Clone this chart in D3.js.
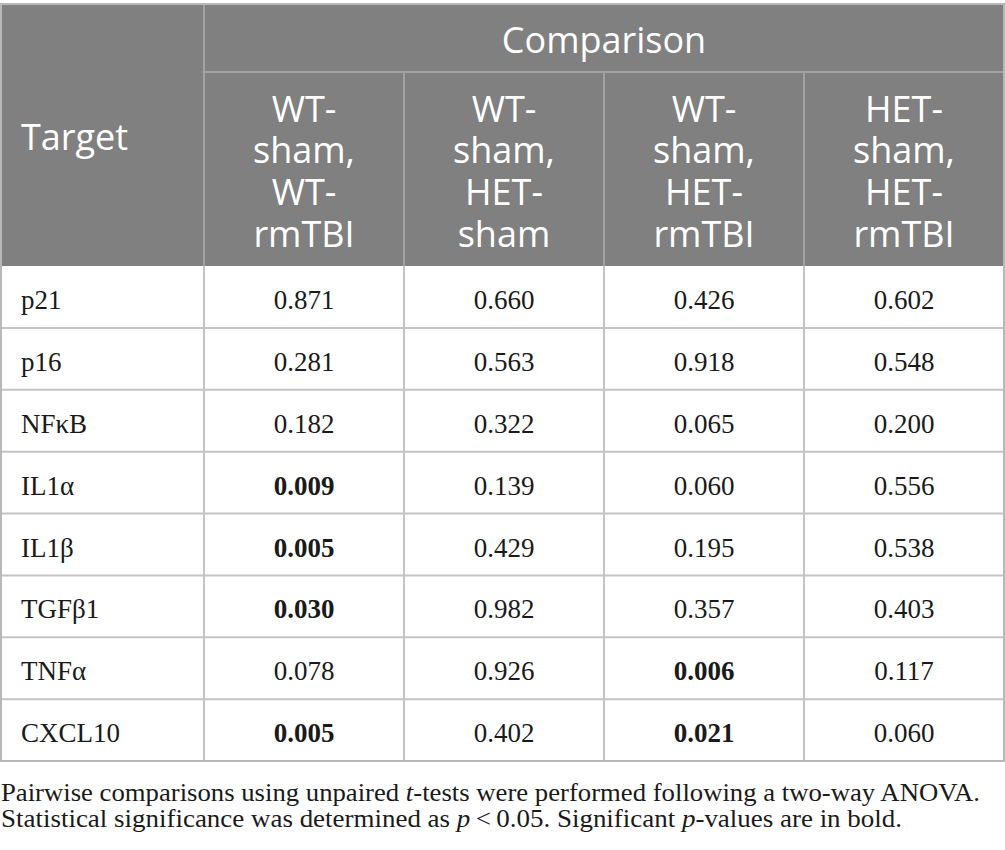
<!DOCTYPE html>
<html>
<head>
<meta charset="utf-8">
<script src="https://cdn.jsdelivr.net/npm/d3@7"></script>
<style>
  body { margin: 0; background: #fff; }
</style>
</head>
<body>
<div id="table"></div>
<script>
// table data
var targets = ["p21", "p16", "NF\u03baB", "IL1\u03b1", "IL1\u03b2", "TGF\u03b21", "TNF\u03b1", "CXCL10"];
var comparisons = [
  ["WT-", "sham,", "WT-", "rmTBI"],
  ["WT-", "sham,", "HET-", "sham"],
  ["WT-", "sham,", "HET-", "rmTBI"],
  ["HET-", "sham,", "HET-", "rmTBI"]
];
var wtShamWtTbi   = [0.871, 0.281, 0.182, 0.009, 0.005, 0.030, 0.078, 0.005];
var wtShamHetSham = [0.660, 0.563, 0.322, 0.139, 0.429, 0.982, 0.926, 0.402];
var wtShamHetTbi  = [0.426, 0.918, 0.065, 0.060, 0.195, 0.357, 0.006, 0.021];
var hetShamHetTbi = [0.602, 0.548, 0.200, 0.556, 0.538, 0.403, 0.117, 0.060];
var alpha = 0.05;

var series = [wtShamWtTbi, wtShamHetSham, wtShamHetTbi, hetShamHetTbi];

var W = 1005, H = 850;
var left = 1, right = 1004, top = 4, firstColW = 203;
var headTop = 4, subTop = 72, headBottom = 266, tableBottom = 761;

var svg = d3.select("#table")
  .append("svg")
    .attr("width", W)
    .attr("height", H);

var x = d3.scaleBand()
  .domain(d3.range(comparisons.length))
  .range([left + firstColW, right]);

var y = d3.scaleBand()
  .domain(targets)
  .range([headBottom, tableBottom]);

var fmt = d3.format(".3f");

// header background
svg.append("rect")
  .attr("x", left).attr("y", headTop)
  .attr("width", right - left).attr("height", headBottom - headTop)
  .attr("fill", "#808080");

// header inner lines
var hdrLine = "#a2a2a2";
svg.append("line")
  .attr("x1", x(0)).attr("x2", right)
  .attr("y1", subTop).attr("y2", subTop)
  .attr("stroke", hdrLine).attr("stroke-width", 2);
svg.selectAll("line.hsep")
  .data(d3.range(comparisons.length))
  .enter()
  .append("line")
    .attr("class", "hsep")
    .attr("x1", d => x(d)).attr("x2", d => x(d))
    .attr("y1", d => d == 0 ? headTop : subTop)
    .attr("y2", headBottom)
    .attr("stroke", hdrLine).attr("stroke-width", 2);

var headFont = "'Open Sans', sans-serif";
svg.append("text")
  .attr("x", 21).attr("y", 150)
  .attr("fill", "#fff")
  .style("font-family", headFont).style("font-size", "36px")
  .text("Target");

svg.append("text")
  .attr("x", (x(0) + right) / 2).attr("y", 53)
  .attr("text-anchor", "middle")
  .attr("fill", "#fff")
  .style("font-family", headFont).style("font-size", "36px")
  .text("Comparison");

svg.selectAll("text.colhead")
  .data(comparisons)
  .enter()
  .append("text")
    .attr("class", "colhead")
    .attr("text-anchor", "middle")
    .attr("fill", "#fff")
    .style("font-family", headFont).style("font-size", "36px")
    .each(function(lines, i) {
      d3.select(this).selectAll("tspan")
        .data(lines)
        .enter()
        .append("tspan")
          .attr("x", x(i) + x.bandwidth() / 2)
          .attr("y", (d, j) => 121.7 + j * 41.7)
          .text(d => d);
    });

// body grid
var grid = "#c4c4c4";
svg.selectAll("line.row")
  .data(targets)
  .enter()
  .append("line")
    .attr("class", "row")
    .attr("x1", left).attr("x2", right)
    .attr("y1", d => y(d) + y.bandwidth())
    .attr("y2", d => y(d) + y.bandwidth())
    .attr("stroke", grid).attr("stroke-width", 2);

svg.selectAll("line.col")
  .data(d3.range(comparisons.length))
  .enter()
  .append("line")
    .attr("class", "col")
    .attr("x1", d => x(d)).attr("x2", d => x(d))
    .attr("y1", headBottom).attr("y2", tableBottom)
    .attr("stroke", grid).attr("stroke-width", 2);

// outer border
svg.append("rect")
  .attr("x", left).attr("y", headTop)
  .attr("width", right - left).attr("height", tableBottom - headTop)
  .attr("fill", "none")
  .attr("stroke", "#b8b8b8").attr("stroke-width", 2);

var bodyFont = "'Liberation Serif', 'Times New Roman', serif";

svg.selectAll("text.target")
  .data(targets)
  .enter()
  .append("text")
    .attr("class", "target")
    .attr("x", 21)
    .attr("y", d => y(d) + 43)
    .attr("fill", "#1a1a1a")
    .style("font-family", bodyFont).style("font-size", "27px")
    .text(d => d);

var cells = [];
series.forEach(function(vals, c) {
  vals.forEach(function(v, r) {
    cells.push({col: c, target: targets[r], value: v});
  });
});

svg.selectAll("text.cell")
  .data(cells)
  .enter()
  .append("text")
    .attr("class", "cell")
    .attr("x", d => x(d.col) + x.bandwidth() / 2)
    .attr("y", d => y(d.target) + 43)
    .attr("text-anchor", "middle")
    .attr("fill", "#1a1a1a")
    .style("font-family", bodyFont).style("font-size", "27px")
    .style("font-weight", d => d.value < alpha ? "bold" : "normal")
    .text(d => fmt(d.value));

// footnote
var note1 = svg.append("text")
  .attr("x", 1).attr("y", 801)
  .attr("fill", "#1a1a1a")
  .attr("textLength", 979).attr("lengthAdjust", "spacingAndGlyphs")
  .style("font-family", bodyFont).style("font-size", "26px");
note1.append("tspan").text("Pairwise comparisons using unpaired ");
note1.append("tspan").style("font-style", "italic").text("t");
note1.append("tspan").text("-tests were performed following a two-way ANOVA.");

var note2 = svg.append("text")
  .attr("x", 1).attr("y", 827)
  .attr("fill", "#1a1a1a")
  .attr("textLength", 901).attr("lengthAdjust", "spacingAndGlyphs")
  .style("font-family", bodyFont).style("font-size", "26px");
note2.append("tspan").text("Statistical significance was determined as ");
note2.append("tspan").style("font-style", "italic").text("p");
note2.append("tspan").text("\u2009<\u20090.05. Significant ");
note2.append("tspan").style("font-style", "italic").text("p");
note2.append("tspan").text("-values are in bold.");
</script>
</body>
</html>
